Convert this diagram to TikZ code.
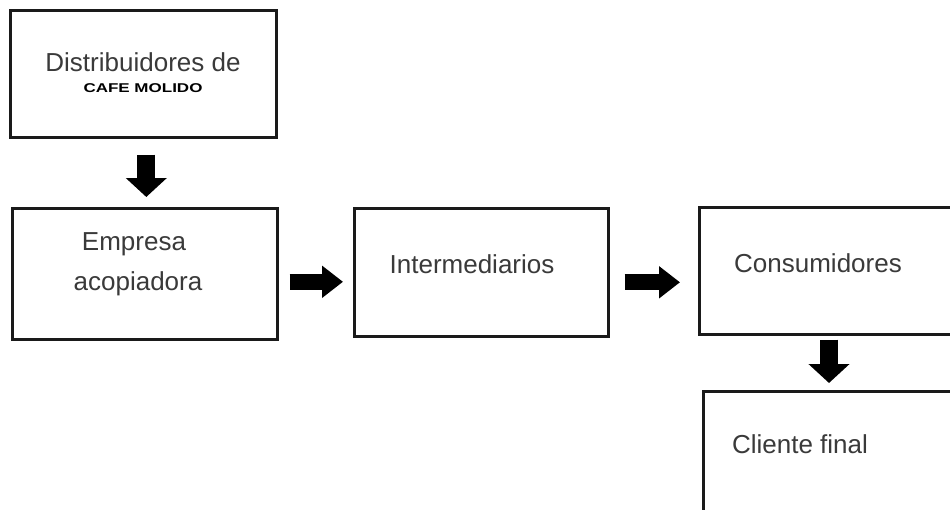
\documentclass[tikz,border=0pt]{standalone}
\usepackage{fontspec}
\setmainfont{Liberation Sans}
\usetikzlibrary{arrows.meta}
\definecolor{txt}{HTML}{3A3A3A}
\definecolor{edge}{HTML}{1A1A1A}
\tikzset{
  box/.style={draw=edge, line width=2.6pt, rectangle, anchor=north west, inner sep=0pt},
  lbl/.style={anchor=base, text=txt, font=\fontsize{26}{30}\selectfont, inner sep=0pt},
  blkdown/.style={draw=black, line width=18pt, -{Triangle[length=19pt,width=40pt]}},
  blkright/.style={draw=black, line width=16pt, -{Triangle[length=21pt,width=31pt]}},
}
\begin{document}
\begin{tikzpicture}[x=1pt,y=-1pt]
\useasboundingbox (0,0) rectangle (950,509);
\clip (0,0) rectangle (950,509);
\fill[white] (0,0) rectangle (950,509);
% boxes
\node[box, minimum width=266pt, minimum height=127pt] (b1) at (9,9) {};
\node[box, minimum width=265pt, minimum height=131pt] (b2) at (11,207) {};
\node[box, minimum width=254pt, minimum height=128pt] (b3) at (353,207) {};
\node[box, minimum width=320pt, minimum height=127pt] (b4) at (698,206) {};
\node[box, minimum width=320pt, minimum height=180pt] (b5) at (702,390) {};
% labels
\node[lbl] (t1) at (143,71) {Distribuidores de};
\node[anchor=base, inner sep=0pt] (t1b) at (143,92) {\scalebox{1}[0.75]{\fontsize{17}{17}\selectfont\bfseries CAFE MOLIDO}};
\node[lbl] (t2) at (134,250) {Empresa};
\node[lbl] (t2b) at (138,290) {acopiadora};
\node[lbl] (t3) at (472,273) {Intermediarios};
\node[lbl] (t4) at (818,272) {Consumidores};
\node[lbl] (t5) at (800,453) {Cliente final};
% arrows
\draw[blkdown] ([shift={(3,16)}]b1.south) -- ([shift={(1.5,-10)}]b2.north);
\draw[blkright] ([shift={(11,8)}]b2.east) -- ([shift={(-10,9.5)}]b3.west);
\draw[blkright] ([shift={(15,10)}]b3.east) -- ([shift={(-18,11.5)}]b4.west);
\draw[blkdown] ([shift={(131,4)}]b4.south west) -- ([shift={(127,-7)}]b5.north west);
\end{tikzpicture}
\end{document}
